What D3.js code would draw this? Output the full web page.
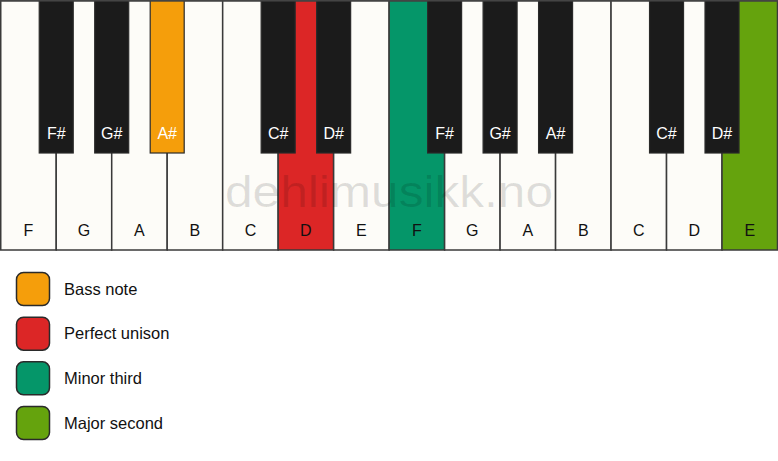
<!DOCTYPE html>
<html><head><meta charset="utf-8">
<script src="https://cdn.jsdelivr.net/npm/d3@7"></script>
<style>
html,body{margin:0;padding:0;background:#ffffff;}
svg{display:block;font-family:"Liberation Sans",Arial,Helvetica,sans-serif;}
</style></head>
<body>
<script>
// Data
const whiteKeys = ["F","G","A","B","C","D","E","F","G","A","B","C","D","E"];
const blackKeys = ["F#","G#","A#","C#","D#","F#","G#","A#","C#","D#"];
const blackAfterWhite = [0,1,2,4,5,7,8,9,11,12]; // black key sits after this white key index
const highlightWhite = [5,7,13];           // D, F, E
const highlightWhiteRole = ["Perfect unison","Minor third","Major second"];
const highlightBlack = [2];                 // first A#
const highlightBlackRole = ["Bass note"];
const legendLabels = ["Bass note","Perfect unison","Minor third","Major second"];
const legendColors = ["#f59e0b","#dc2626","#059669","#65a30d"];

const W = 778, H = 461;
const kbTop = 0.75, kbBottom = 250;
const blackH = 153, blackW = 34;

const svg = d3.select("body").append("svg").attr("width", W).attr("height", H);
const color = d3.scaleOrdinal().domain(legendLabels).range(legendColors);

const x = d3.scaleBand().domain(d3.range(whiteKeys.length)).range([0.75, 777.5]).paddingInner(0).paddingOuter(0);

const whiteFill = i => {
  const k = highlightWhite.indexOf(i);
  return k >= 0 ? color(highlightWhiteRole[k]) : "#fdfcf8";
};
const blackFill = j => {
  const k = highlightBlack.indexOf(j);
  return k >= 0 ? color(highlightBlackRole[k]) : "#1b1b1b";
};

// white keys
const wg = svg.append("g");
wg.selectAll("rect").data(whiteKeys).join("rect")
  .attr("x", (d,i) => x(i)).attr("y", kbTop)
  .attr("width", x.bandwidth()).attr("height", kbBottom - kbTop)
  .attr("fill", (d,i) => whiteFill(i))
  .attr("stroke", "#3a3a3a").attr("stroke-width", 1.5);
wg.selectAll("text").data(whiteKeys).join("text")
  .attr("x", (d,i) => x(i) + x.bandwidth()/2).attr("y", 236)
  .attr("text-anchor", "middle").attr("font-size", 16).attr("fill", "#111")
  .text(d => d);

// watermark
svg.append("text").attr("x", 389).attr("y", 207).attr("text-anchor", "middle")
  .attr("font-size", 45).attr("textLength", 328).attr("lengthAdjust", "spacingAndGlyphs")
  .attr("fill", "#000").attr("fill-opacity", 0.12).text("dehlimusikk.no");

// black keys
const bg = svg.append("g");
bg.selectAll("rect").data(blackKeys).join("rect")
  .attr("x", (d,j) => x(blackAfterWhite[j] + 1) - blackW/2).attr("y", kbTop)
  .attr("width", blackW).attr("height", blackH - kbTop)
  .attr("fill", (d,j) => blackFill(j))
  .attr("stroke", "#2a2a2a").attr("stroke-width", 1.2);
bg.selectAll("text").data(blackKeys).join("text")
  .attr("x", (d,j) => x(blackAfterWhite[j] + 1)).attr("y", 139)
  .attr("text-anchor", "middle").attr("font-size", 16).attr("fill", "#ffffff")
  .text(d => d);

// top border
svg.append("line").attr("x1", 0).attr("x2", W).attr("y1", 0.75).attr("y2", 0.75)
  .attr("stroke", "#444").attr("stroke-width", 1.5);

// legend
const ly = d3.scalePoint().domain(legendLabels).range([289, 423]);
const lg = svg.append("g").selectAll("g").data(legendLabels).join("g")
  .attr("transform", d => `translate(0,${ly(d)})`);
lg.append("rect").attr("x", 16.5).attr("y", -16.5).attr("width", 33).attr("height", 33)
  .attr("rx", 7).attr("fill", d => color(d)).attr("stroke", "#2a2a2a").attr("stroke-width", 1.5);
lg.append("text").attr("x", 64).attr("y", 0).attr("dy", "0.35em")
  .attr("font-size", 16.5).attr("fill", "#111").text(d => d);
</script>
</body></html>
